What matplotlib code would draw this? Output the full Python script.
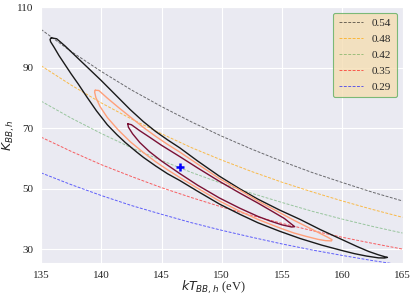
import matplotlib
matplotlib.use("Agg")
import matplotlib.pyplot as plt
import seaborn as sns

# ---- data ----
T_grid = [135, 137.5, 140, 142.5, 145, 147.5, 150, 152.5, 155, 157.5, 160, 162.5, 165]
curve_labels = ["0.54", "0.48", "0.42", "0.35", "0.29"]
K_054 = [102.7, 95.4, 88.8, 82.7, 77.2, 72.1, 67.4, 63.1, 59.1, 55.4, 52.1, 48.9, 46.0]
K_048 = [90.7, 84.3, 78.4, 73.1, 68.2, 63.6, 59.5, 55.7, 52.2, 49.0, 46.0, 43.2, 40.6]
K_042 = [79.0, 73.4, 68.3, 63.6, 59.4, 55.4, 51.8, 48.5, 45.5, 42.6, 40.0, 37.6, 35.4]
K_035 = [67.1, 62.4, 58.0, 54.1, 50.4, 47.1, 44.0, 41.2, 38.6, 36.2, 34.0, 32.0, 30.1]
K_029 = [55.3, 51.4, 47.8, 44.5, 41.6, 38.8, 36.3, 34.0, 31.8, 29.8, 28.0, 26.3, 24.8]

# outer (black) contour
outer_T = [135.85, 136.3, 137, 138, 139, 140, 141.2, 142.4, 143.5, 144.5, 145.5, 146.5, 148, 149.8,
           151.5, 153, 154.8, 156.5, 158.2, 160, 161.2, 162.2, 163, 163.5, 163.75,
           163.5, 163, 162, 161, 160, 158.3, 156.5, 154.8, 153, 151.5, 149.8, 148, 146.5, 145.5,
           144.5, 143.5, 142.9, 142, 141.3, 140.5, 139.6, 138.8, 138.1, 137.5, 137, 136.5, 136.1,
           135.8, 135.75, 135.85]
outer_K = [99.9, 99.6, 97.2, 93.4, 89.6, 85.8, 81.0, 76.2, 72.2, 69.0, 66.2, 63.6, 59.2, 54.2,
           50.0, 46.6, 43.0, 39.9, 36.5, 33.2, 31.0, 29.3, 28.2, 27.6, 27.35,
           27.15, 27.2, 27.8, 28.6, 29.6, 31.4, 33.6, 36.0, 38.8, 41.6, 45.0, 49.2, 52.8, 55.0,
           57.6, 60.4, 62.3, 65.3, 67.9, 71.2, 75.8, 80.4, 84.6, 88.0, 91.0, 94.0, 96.7,
           98.6, 99.4, 99.9]
# middle (salmon) contour
mid_T = [139.5, 139.8, 140.5, 141.4, 142.4, 143.5, 144.5, 145.5, 146.5, 148, 149.8, 151.5, 153,
         154.5, 156, 157.2, 158.2, 158.8, 159.15,
         159.1, 158.6, 158, 157, 156, 155, 153, 151.5, 149.8, 148, 146.5, 145.5, 144.5, 143.5,
         142.4, 141.4, 140.5, 139.9, 139.55, 139.45, 139.5]
mid_K = [82.6, 82.5, 80.0, 77.0, 73.8, 70.3, 67.4, 64.7, 62.2, 58.2, 53.4, 49.6, 46.0,
         42.8, 39.6, 37.2, 35.2, 34.0, 33.2,
         32.8, 32.9, 33.3, 34.3, 35.4, 36.8, 39.9, 42.6, 46.0, 50.2, 53.8, 56.3, 59.0, 62.0,
         65.6, 69.5, 73.6, 77.2, 80.2, 82.0, 82.6]
# inner (maroon) contour
in_T = [142.2, 142.5, 143.2, 144, 145, 146.5, 148, 149.8, 151.5, 153, 154.3, 155.2, 155.8, 156.05,
        155.8, 155, 154, 153, 151.5, 149.8, 148, 146.5, 145, 144, 143.2, 142.6, 142.25, 142.2]
in_K = [71.5, 71.2, 69.2, 67.1, 64.4, 60.7, 56.9, 52.5, 48.6, 45.3, 42.3, 40.2, 38.3, 37.5,
        37.4, 38.1, 39.4, 40.9, 43.6, 47.0, 51.2, 55.1, 59.2, 62.3, 65.3, 68.2, 70.4, 71.5]
best_T = [146.5]
best_K = [57.1]

x_ticks = [135, 140, 145, 150, 155, 160, 165]
y_ticks = [30, 50, 70, 90, 110]

sns.set_style("darkgrid")
plt.rcParams["font.family"] = ["Liberation Serif", "DejaVu Serif"]
plt.rcParams["mathtext.fontset"] = "dejavusans"

fig = plt.figure(figsize=(4.15, 2.99), dpi=100)
ax = fig.add_axes([0.0988, 0.1194, 0.8711, 0.8562])

curves = [K_054, K_048, K_042, K_035, K_029]
colors = ["k", "orange", "g", "r", "b"]
alphas = [0.55, 0.7, 0.35, 0.6, 0.6]
for K, c, a, lab in zip(curves, colors, alphas, curve_labels):
    ax.plot(T_grid, K, ls="--", color=c, alpha=a, lw=0.7, dashes=(3, 1.5), label=lab)

ax.plot(outer_T, outer_K, color="#1a1a1a", lw=1.0)
ax.plot(mid_T, mid_K, color="lightsalmon", lw=1.0)
ax.plot(in_T, in_K, color="#7a1035", lw=1.0)
ax.plot(best_T, best_K, marker="+", color="b", ms=6, mew=1.8, ls="none")

ax.set_xlim(135, 165)
ax.set_ylim(25.4, 110)
ax.set_xticks(x_ticks)
ax.set_yticks(y_ticks)
ax.tick_params(labelsize=8, pad=2)
ax.set_xlabel(r"$kT_{BB,h}$ (eV)", fontsize=9)
ax.xaxis.set_label_coords(0.476, -0.062)
ax.set_ylabel(r"$K_{BB,h}$", fontsize=9)
ax.yaxis.set_label_coords(-0.066, 0.5)

leg = ax.legend(loc="upper right", fontsize=8, frameon=True, fancybox=True,
                facecolor="wheat", edgecolor="#5fae5f", framealpha=0.8,
                handlelength=2.2, borderpad=0.5, labelspacing=0.55)
leg.get_frame().set_linewidth(0.8)

fig.savefig("out.png", dpi=100)
